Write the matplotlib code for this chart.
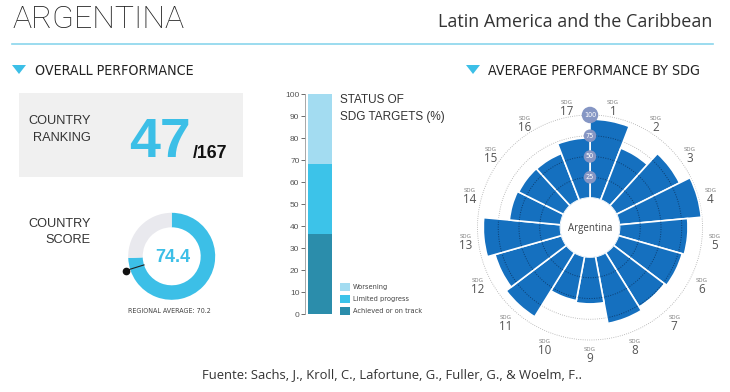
import numpy as np
import matplotlib
matplotlib.use('Agg')
import matplotlib.pyplot as plt
from matplotlib.patches import Rectangle, Polygon
from matplotlib.lines import Line2D

plt.rcParams['font.family'] = ['Liberation Sans', 'DejaVu Sans']

# data
country = 'ARGENTINA'
country_name = 'Argentina'
region = 'Latin America and the Caribbean'
rank = 47
n_countries = 167
score = 74.4
regional_avg = 70.2

status_labels = ['Achieved or on track', 'Limited progress', 'Worsening']
status_values = [36.5, 32.0, 31.5]
status_colors = ['#2b8dab', '#3cc3e9', '#a3dcf1']

sdg_ids = list(range(1, 18))
sdg_scores = [95, 67, 85, 99, 82.5, 80, 77, 82, 56.5, 54, 91, 83.5, 93, 62, 60.5, 60, 72.5]
ring_levels = [25, 50, 75, 100]

source = 'Fuente: Sachs, J., Kroll, C., Lafortune, G., Fuller, G., & Woelm, F..'

CYAN = '#3cbfe7'
BLUE = '#1570bf'
COND = dict(family='DejaVu Sans', fontstretch='condensed')
SOFT = ['Open Sans', 'DejaVu Sans']

W, H = 730, 392
fig = plt.figure(figsize=(W / 100, H / 100), dpi=100)


def px_axes(left, top, width, height, **kw):
    return fig.add_axes([left / W, 1 - (top + height) / H, width / W, height / H], **kw)


def ftext(x, y, s, **kw):
    return fig.text(x / W, 1 - y / H, s, **kw)


def fpts(pts):
    return [(x / W, 1 - y / H) for x, y in pts]


# header
ftext(12, 28.3, country, fontsize=23, family=['Roboto', 'DejaVu Sans'], fontweight='light',
      color='#222222', va='baseline')
ftext(712, 27.3, region, fontsize=13, family=SOFT, ha='right', va='baseline', color='#333333')
fig.add_artist(Line2D([12 / W, 713 / W], [1 - 43.5 / H] * 2, color='#8ad6ec', lw=1.2))

fig.add_artist(Polygon(fpts([(12, 65), (26, 65), (19, 74)]), closed=True, color=CYAN, lw=0))
ftext(35, 75, 'OVERALL PERFORMANCE', fontsize=10.2, color='#222222', va='baseline', **COND)
fig.add_artist(Polygon(fpts([(466, 65), (480, 65), (473, 74)]), closed=True, color=CYAN, lw=0))
ftext(488, 75, 'AVERAGE PERFORMANCE BY SDG', fontsize=10.2, color='#222222', va='baseline', **COND)

# ranking box
fig.add_artist(Rectangle((19 / W, 1 - 177 / H), 224 / W, 84 / H, color='#f0f0f0', lw=0, zorder=0))
ftext(90.7, 124.3, 'COUNTRY', fontsize=9.2, ha='right', va='baseline', color='#333333')
ftext(90.7, 141, 'RANKING', fontsize=9.2, ha='right', va='baseline', color='#333333')
ftext(129, 156.7, str(rank), fontsize=40, fontweight='bold', color=CYAN, va='baseline')
ftext(193, 157.7, '/' + str(n_countries), fontsize=12.8, fontweight='bold', color='#111111',
      va='baseline')

# score donut
ftext(90.7, 226.7, 'COUNTRY', fontsize=9.2, ha='right', va='baseline', color='#333333')
ftext(90.7, 243.3, 'SCORE', fontsize=9.2, ha='right', va='baseline', color='#333333')

dax = px_axes(171.7 - 55, 256.3 - 55, 110, 110)
dax.pie([score, 100 - score], radius=43.5, startangle=90, counterclock=False,
        colors=[CYAN, '#e9e9ee'], wedgeprops=dict(width=14.5, edgecolor='none'))
dax.set_xlim(-55, 55)
dax.set_ylim(-55, 55)
dax.set_aspect('equal')
dax.axis('off')
ang = np.deg2rad(90 - regional_avg * 3.6)
dax.plot([29 * np.cos(ang), 48 * np.cos(ang)], [29 * np.sin(ang), 48 * np.sin(ang)],
         color='#222222', lw=0.8)
dax.plot([48 * np.cos(ang)], [48 * np.sin(ang)], 'o', ms=4.5, color='#111111')
ftext(172.5, 261.7, f'{score:.1f}', fontsize=13, fontweight='bold', color=CYAN, ha='center',
      va='baseline')
ftext(169.5, 313.3, f'REGIONAL AVERAGE: {regional_avg:.1f}', fontsize=5.1, color='#444444',
      ha='center', va='baseline', **COND)

# status of SDG targets
bax = px_axes(305, 94.3, 30, 220)
bottoms = np.cumsum([0] + status_values[:-1])
bars = []
for v, b, c, lab in zip(status_values, bottoms, status_colors, status_labels):
    bars.append(bax.bar(0.1, v, 0.8, bottom=b, align='edge', color=c, label=lab))
bax.set_xlim(0, 1)
bax.set_ylim(0, 100)
bax.set_yticks(range(0, 101, 10))
bax.set_xticks([])
for s in ['top', 'right', 'bottom']:
    bax.spines[s].set_visible(False)
bax.spines['left'].set_color('#999999')
bax.spines['left'].set_linewidth(0.6)
bax.tick_params(axis='y', labelsize=6, colors='#555555', length=3, width=0.6, pad=1)
ftext(340, 103.3, 'STATUS OF', fontsize=8.5, color='#333333', va='baseline')
ftext(340, 120, 'SDG TARGETS (%)', fontsize=8.5, color='#333333', va='baseline')
fig.legend(bars[::-1], status_labels[::-1], loc='lower left', bbox_to_anchor=(340 / W, 1 - 315 / H),
           frameon=False, prop=dict(family='DejaVu Sans', stretch='condensed', size=5.3),
           labelcolor='#444444', handlelength=1.4, handleheight=1.35, handletextpad=0.35,
           labelspacing=0.5, borderpad=0, borderaxespad=0)

# polar chart by SDG
R_PX = 140
pax = px_axes(590 - R_PX, 227.5 - R_PX, 2 * R_PX, 2 * R_PX, projection='polar')
pax.set_theta_zero_location('N')
pax.set_theta_direction(-1)
pax.set_ylim(0, 133.1)
pax.set_rorigin(-35.54)
width = 2 * np.pi / len(sdg_ids)
theta = np.arange(len(sdg_ids)) * width
pax.bar(theta, sdg_scores, width=width, align='edge', color=BLUE, edgecolor='white', lw=1.2,
        zorder=2)
th = np.linspace(0, 2 * np.pi, 400)
for lvl in [75, 100]:
    pax.plot(th, np.full_like(th, lvl), ls=':', color='#aaaaaa', lw=0.6, zorder=1)
for t0, s in zip(theta, sdg_scores):
    for lvl in ring_levels[:-1]:
        if s > lvl:
            tt = np.linspace(t0 + 0.012, t0 + width - 0.012, 20)
            pax.plot(tt, np.full_like(tt, lvl), ls=(0, (1, 1.5)), color='#0c3d70', lw=0.7, zorder=3)
for lvl in ring_levels:
    pax.text(0, lvl, str(lvl), ha='center', va='center', fontsize=5.2, color='white',
             bbox=dict(boxstyle='circle,pad=0.3', fc='#8596c4', ec='none'), zorder=5, **COND)
for t0, sdg in zip(theta, sdg_ids):
    tc = t0 + width / 2
    pax.text(tc, 115, 'SDG', fontsize=4.3, family=SOFT, color='#777777', ha='center', va='bottom')
    pax.text(tc, 115, str(sdg), fontsize=8.4, family=SOFT, color='#555555', ha='center', va='top')
pax.axis('off')
ftext(590, 228, country_name, fontsize=7, family=SOFT, color='#444444', ha='center', va='center')

ftext(201.7, 378.3, source, fontsize=9.4, family=SOFT, color='#333333', va='baseline')

fig.savefig('out.png', dpi=100)
